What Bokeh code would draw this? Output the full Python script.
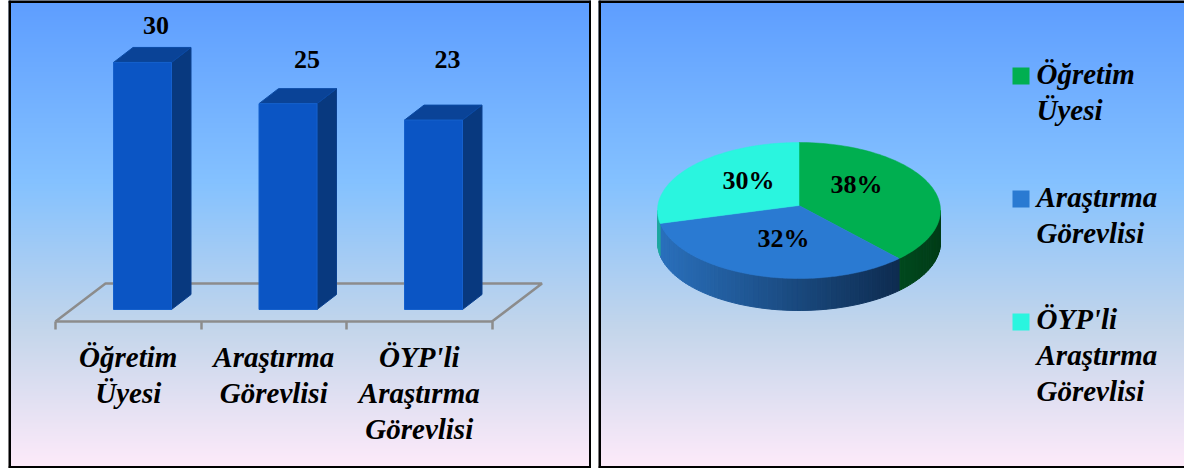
import numpy as np
from bokeh.core.properties import value
from bokeh.embed import file_html
from bokeh.layouts import row
from bokeh.models import FixedTicker, Range1d, Span
from bokeh.plotting import figure
from bokeh.resources import INLINE

# ---- data ----
categories = ["Öğretim\nÜyesi", "Araştırma\nGörevlisi", "ÖYP'li\nAraştırma\nGörevlisi"]
counts = [30, 25, 23]
pie_percent = [38, 32, 30]
pie_labels = ["38%", "32%", "30%"]
pie_colors = ["#00AF50", "#2A7AD2", "#2AF5DF"]
side_left = ["#004A1E", "#2A70BC", "#1FA8A0"]
side_right = ["#003C18", "#0E2C50", "#1FA8A0"]
grad_stops = [0.0, 0.39, 0.70, 1.0]
grad_colors = [(0x5E, 0x9E, 0xFF), (0x85, 0xC2, 0xFF), (0xC4, 0xD6, 0xEB), (0xFF, 0xEB, 0xFA)]

# ---- layout constants (reference pixels) ----
TOP, BOTTOM = 0, 468
FONT = value("Liberation Serif")
LINE = 36.3
UP_SMALL, UP_BIG = 8.5, 10  # baseline correction of the svg text


def gradient_image():
    rows = np.arange(BOTTOM - 1, TOP - 1, -1) / 468
    img = np.zeros((len(rows), 1, 4), dtype=np.uint8)
    for c in range(3):
        img[:, 0, c] = np.interp(rows, grad_stops, [g[c] for g in grad_colors])
    img[:, 0, 3] = 255
    return img.view(np.uint32).reshape(len(rows), 1)


def make_fig(x0, x1, y0, y1, w):
    p = figure(width=w, height=BOTTOM - TOP, x_range=Range1d(x0, x1), y_range=Range1d(y0, y1),
               toolbar_location=None, output_backend="svg", min_border=0)
    p.grid.visible = False
    p.background_fill_color = None
    p.border_fill_color = "white"
    p.outline_line_color = None
    p.image_rgba(image=[gradient_image()], x=x0, y=y0, dw=x1 - x0, dh=y1 - y0)
    return p


# ---- left: 3D bar chart ----
PITCH, X0_PX = 145.5, 55
YPX, BASE_PX = 8.235, 309
fx = lambda px: (px - X0_PX) / PITCH
fy = lambda px: (BASE_PX - px) / YPX
p1 = make_fig(fx(8), fx(591), fy(BOTTOM), fy(TOP), 583)
p1.margin = (0, 0, 0, 8)
p1.yaxis.visible = False

n = len(counts)
floor_y, back_y = fy(321), fy(283)
shift = 50 / PITCH
p1.line([0, shift, n + shift, n], [floor_y, back_y, back_y, floor_y], line_color="#8C8C8C", line_width=2.5)
ax = p1.xaxis[0]
ax.ticker = FixedTicker(ticks=list(range(n + 1)))
ax.fixed_location = floor_y
ax.bounds = (0, n)
ax.axis_line_color = "#8C8C8C"
ax.axis_line_width = 2.5
ax.major_tick_line_color = "#8C8C8C"
ax.major_tick_line_width = 2.5
ax.major_tick_in = 0
ax.major_tick_out = 8
ax.minor_tick_line_color = None
ax.major_label_overrides = {i: "" for i in range(n + 1)}

bw, off = 58 / PITCH, 0.098
dx, dy = 19.5 / PITCH, 15 / YPX
lefts = [i + 0.5 + off - bw / 2 for i in range(n)]
rights = [l + bw for l in lefts]
p1.patches([[r, r + dx, r + dx, r] for r in rights],
           [[0, dy, v + dy, v] for v in counts], fill_color="#08397F", line_color="#0A4090", line_width=1)
p1.patches([[l, l + dx, r + dx, r] for l, r in zip(lefts, rights)],
           [[v, v + dy, v + dy, v] for v in counts], fill_color="#0A4397", line_color="#0A4AA5", line_width=1)
p1.quad(left=lefts, right=rights, bottom=0, top=counts, fill_color="#0B55C4", line_color="#1560CC", line_width=1)

value_px = [(155.5, 33), (306.5, 67), (447, 67)]
p1.text([fx(a) for a, _ in value_px], [fy(b - UP_SMALL) for _, b in value_px], text=[str(c) for c in counts],
        text_font=FONT, text_font_size="26px", text_font_style="bold", text_color="black",
        text_align="center", text_baseline="alphabetic")
xs, ys, ts = [], [], []
for i, lab in enumerate(categories):
    for j, line in enumerate(lab.split("\n")):
        xs.append(i + 0.5)
        ys.append(fy(366 + j * LINE - UP_BIG))
        ts.append(line)
p1.text(xs, ys, text=ts, text_font=FONT, text_font_size="29px", text_font_style="bold italic",
        text_color="black", text_align="center", text_baseline="alphabetic")
for loc, dim in [(fx(8), "height"), (fx(591), "height"), (fy(TOP), "width"), (fy(BOTTOM), "width")]:
    p1.add_layout(Span(location=loc, dimension=dim, line_color="black", line_width=5))

# ---- right: 3D pie ----
RX, CX, CY = 141.5, 798.5, 210
APEX_Y = 5 / RX  # the apex sits above the ellipse centre in the perspective view
gx = lambda px: (px - CX) / RX
gy = lambda px: (CY - px) / RX
p2 = make_fig(gx(598), gx(1184), gy(BOTTOM), gy(TOP), 586)
p2.axis.visible = False
TILT, DEPTH = 68 / RX, 32 / RX

bounds_true = np.concatenate([[0], np.cumsum(pie_percent) / sum(pie_percent) * 360])
# perspective foreshortening of the slice boundaries
bounds = np.interp(bounds_true, [0, 136.8, 252, 360], [0, 135, 259, 360])


def pt(a):
    t = np.radians(a - 90)
    return np.cos(t), -np.sin(t) * TILT


for k in range(len(pie_percent)):
    a0, a1 = max(bounds[k], 90), min(bounds[k + 1], 270)
    if a1 <= a0:
        continue
    edges = np.arange(a0, a1, 2.0).tolist() + [a1]
    for e0, e1 in zip(edges[:-1], edges[1:]):
        f = (pt(e0)[0] + pt(e1)[0]) / 2
        mix = (f - pt(a1)[0]) / max(pt(a0)[0] - pt(a1)[0], 1e-6)
        cl = np.array([int(side_left[k][q:q + 2], 16) for q in (1, 3, 5)])
        cr = np.array([int(side_right[k][q:q + 2], 16) for q in (1, 3, 5)])
        c = cl + (cr - cl) * mix
        col = "#%02x%02x%02x" % tuple(int(v) for v in c)
        x0, y0 = pt(e0)
        x1, y1 = pt(e1)
        p2.patch([x0, x1, x1, x0], [y0, y1, y1 - DEPTH, y0 - DEPTH], fill_color=col, line_color=col, line_width=1)
for k in range(len(pie_percent)):
    angs = np.linspace(bounds[k], bounds[k + 1], 80)
    px_, py_ = zip(*[pt(a) for a in angs])
    p2.patch([0, *px_], [APEX_Y, *py_], fill_color=pie_colors[k], line_color=pie_colors[k], line_width=0.5)

label_px = [(856, 192), (783, 246), (748, 188)]
p2.text([gx(a) for a, _ in label_px], [gy(b - UP_SMALL) for _, b in label_px], text=pie_labels, text_font=FONT,
        text_font_size="26px", text_font_style="bold", text_color="black",
        text_align="center", text_baseline="alphabetic")

legend_sq = [75.5, 198.5, 321.5]
legend_base = [83, 206, 328]
p2.scatter([gx(1020.5)] * 3, [gy(v) for v in legend_sq], marker="square", size=17,
           fill_color=pie_colors, line_color=None)
xs, ys, ts = [], [], []
for base, lab in zip(legend_base, categories):
    for j, line in enumerate(lab.split("\n")):
        xs.append(gx(1036))
        ys.append(gy(base + j * LINE - UP_BIG))
        ts.append(line)
p2.text(xs, ys, text=ts, text_font=FONT, text_font_size="29px", text_font_style="bold italic",
        text_color="black", text_align="left", text_baseline="alphabetic")
for loc, dim in [(gx(598), "height"), (gy(TOP), "width"), (gy(BOTTOM), "width")]:
    p2.add_layout(Span(location=loc, dimension=dim, line_color="black", line_width=5))

page = row(p1, p2, spacing=7)
open("out.html", "w").write(file_html(page, INLINE))
